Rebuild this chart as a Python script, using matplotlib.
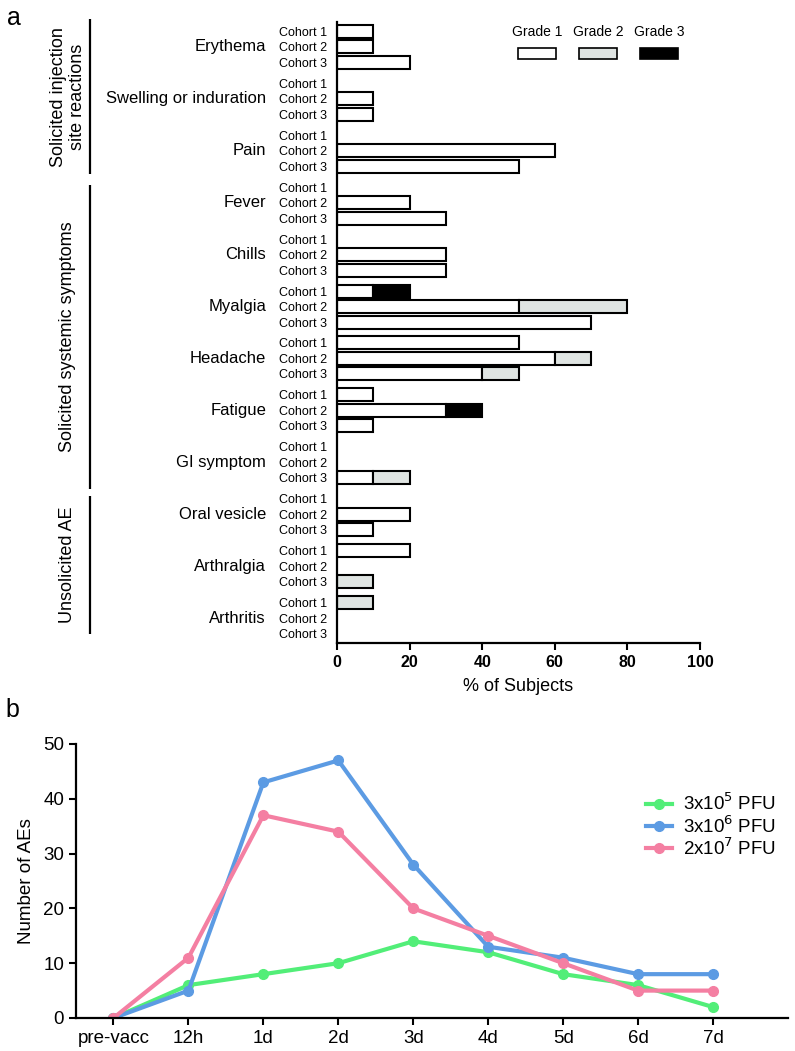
import numpy as np
import matplotlib
matplotlib.use("Agg")
import matplotlib.pyplot as plt
from matplotlib import transforms
from matplotlib.patches import Rectangle

plt.rcParams['font.family'] = ['Liberation Sans', 'DejaVu Sans']

# ---- panel a data (% of subjects, per cohort 1..3) ----
symptoms = ["Erythema", "Swelling or induration", "Pain", "Fever", "Chills",
            "Myalgia", "Headache", "Fatigue", "GI symptom", "Oral vesicle",
            "Arthralgia", "Arthritis"]
cohorts = ["Cohort 1", "Cohort 2", "Cohort 3"]
grade1 = [[10, 10, 20], [0, 10, 10], [0, 60, 50], [0, 20, 30], [0, 30, 30],
          [10, 50, 70], [50, 60, 40], [10, 30, 10], [0, 0, 10], [0, 20, 10],
          [20, 0, 0], [0, 0, 0]]
grade2 = [[0, 0, 0], [0, 0, 0], [0, 0, 0], [0, 0, 0], [0, 0, 0],
          [0, 30, 0], [0, 10, 10], [0, 0, 0], [0, 0, 10], [0, 0, 0],
          [0, 0, 10], [10, 0, 0]]
grade3 = [[0, 0, 0], [0, 0, 0], [0, 0, 0], [0, 0, 0], [0, 0, 0],
          [10, 0, 0], [0, 0, 0], [0, 10, 0], [0, 0, 0], [0, 0, 0],
          [0, 0, 0], [0, 0, 0]]
grade_names = ["Grade 1", "Grade 2", "Grade 3"]
grade_colors = ["white", "#dfe4e2", "black"]
# label, first group, last group, bracket overhang above / below (cohort slots)
sections = [("Solicited injection\nsite reactions", 0, 2, 0.77, 0.5),
            ("Solicited systemic symptoms", 3, 8, 0.13, 0.7),
            ("Unsolicited AE", 9, 11, 0.2, 0.0)]

# ---- panel b data ----
timepoints = ["pre-vacc", "12h", "1d", "2d", "3d", "4d", "5d", "6d", "7d"]
dose_labels = ["3x10$^5$ PFU", "3x10$^6$ PFU", "2x10$^7$ PFU"]
dose_colors = ["#52ee78", "#5c9be3", "#f47fa2"]
ae_low = [0, 6, 8, 10, 14, 12, 8, 6, 2]
ae_mid = [0, 5, 43, 47, 28, 13, 11, 8, 8]
ae_high = [0, 11, 37, 34, 20, 15, 10, 5, 5]

W, H = 795, 1051
fig = plt.figure(figsize=(W / 100, H / 100), dpi=100)

# ================= panel a =================
ax = fig.add_axes([337 / W, 1 - 643 / H, 363 / W, (643 - 22) / H])
gstep = 3.35
ypos = []
for gi in range(len(symptoms)):
    for ci in range(3):
        ypos.append(gi * gstep + ci)
ypos = np.array(ypos)
g1 = np.array(grade1).ravel()
g2 = np.array(grade2).ravel()
g3 = np.array(grade3).ravel()
left = np.zeros_like(g1)
for vals, col in zip([g1, g2, g3], grade_colors):
    m = vals > 0
    ax.barh(ypos[m], vals[m], left=left[m], height=0.84, color=col,
            edgecolor="black", linewidth=1.5)
    left = left + vals

ax.set_xlim(0, 100)
ax.set_ylim(ypos[-1] + 0.6, -0.6)
ax.set_yticks(ypos)
ax.set_yticklabels(cohorts * len(symptoms), fontsize=9)
ax.tick_params(axis="y", length=0, pad=7)
ax.set_xticks([0, 20, 40, 60, 80, 100])
ax.tick_params(axis="x", width=1.5, length=5, labelsize=11.5)
for lb in ax.get_xticklabels():
    lb.set_fontweight("bold")
ax.set_xlabel("% of Subjects", fontsize=13, labelpad=6)
for s in ["top", "right"]:
    ax.spines[s].set_visible(False)
for s in ["left", "bottom"]:
    ax.spines[s].set_linewidth(1.6)

trans = transforms.blended_transform_factory(fig.transFigure, ax.transData)
for gi, name in enumerate(symptoms):
    ax.text(266 / W, gi * gstep + 1, name, transform=trans, ha="right",
            va="center", fontsize=12)

for label, ga, gb, over_top, over_bot in sections:
    y0 = ga * gstep - over_top
    y1 = gb * gstep + 2 + over_bot
    ax.plot([90 / W, 90 / W], [y0, y1], transform=trans, color="black",
            lw=1.6, clip_on=False, solid_capstyle="butt")
    ax.text(68 / W, (y0 + y1) / 2, label, transform=trans, rotation=90,
            ha="center", va="center", fontsize=13, multialignment="center")

# grade legend
for i, (gname, col) in enumerate(zip(grade_names, grade_colors)):
    cx = (537 + i * 61) / W
    fig.text(cx, 1 - 32 / H, gname, ha="center", va="center", fontsize=10)
    fig.patches.append(Rectangle((cx - 19 / W, 1 - 59 / H), 38 / W, 11 / H,
                                 transform=fig.transFigure, facecolor=col,
                                 edgecolor="black", linewidth=1.2))

fig.text(14 / W, 1 - 18 / H, "a", fontsize=18, ha="center", va="center")

# ================= panel b =================
bx = fig.add_axes([76 / W, 1 - 1018 / H, 712 / W, 274 / H])
xs = np.arange(len(timepoints))
for vals, col, lab in zip([ae_low, ae_mid, ae_high], dose_colors, dose_labels):
    bx.plot(xs, vals, color=col, lw=3, marker="o", markersize=7, label=lab)
bx.set_xlim(-0.5, 9.0)
bx.set_ylim(0, 50)
bx.set_yticks([0, 10, 20, 30, 40, 50])
bx.set_xticks(xs)
bx.set_xticklabels(timepoints)
bx.tick_params(width=1.5, length=5, labelsize=13.5)
bx.set_ylabel("Number of AEs", fontsize=13.5, labelpad=6)
for s in ["top", "right"]:
    bx.spines[s].set_visible(False)
for s in ["left", "bottom"]:
    bx.spines[s].set_linewidth(1.6)
bx.legend(loc="upper left", bbox_to_anchor=(0.79, 0.85), frameon=False,
          fontsize=13.5, handlelength=1.4, handletextpad=0.6,
          labelspacing=0.05, borderaxespad=0)

fig.text(12 / W, 1 - 710 / H, "b", fontsize=18, ha="center", va="center")

fig.savefig("out.png", dpi=100)
